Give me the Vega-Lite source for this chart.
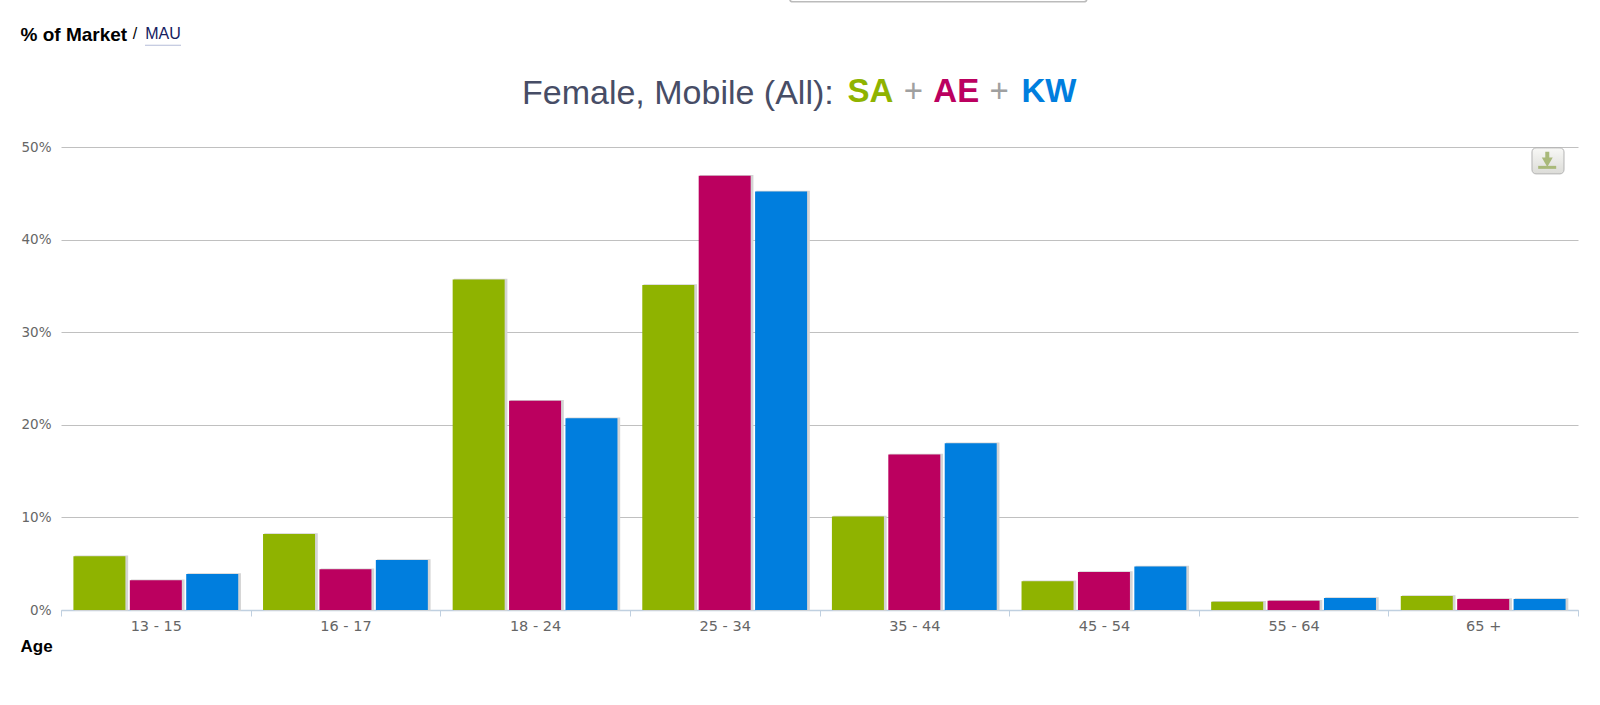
{
  "$schema": "https://vega.github.io/schema/vega-lite/v6.json",
  "width": 1517,
  "height": 463,
  "autosize": {"type": "none"},
  "padding": {"left": 61, "top": 147, "right": 22, "bottom": 95},
  "background": "white",
  "title": {
    "text": "Female, Mobile (All):",
    "anchor": "start",
    "dx": 502,
    "dy": 116,
    "offset": 0,
    "font": "Liberation Sans",
    "fontSize": 34,
    "fontWeight": "normal",
    "color": "#474d66"
  },
  "config": {"view": {"stroke": null}},
  "resolve": {"scale": {"xOffset": "independent"}},
  "data": {
    "values": [
      {"age": "13 - 15", "market": "SA", "pct": 5.8},
      {"age": "13 - 15", "market": "AE", "pct": 3.2},
      {"age": "13 - 15", "market": "KW", "pct": 3.9},
      {"age": "16 - 17", "market": "SA", "pct": 8.2},
      {"age": "16 - 17", "market": "AE", "pct": 4.4},
      {"age": "16 - 17", "market": "KW", "pct": 5.4},
      {"age": "18 - 24", "market": "SA", "pct": 35.7},
      {"age": "18 - 24", "market": "AE", "pct": 22.6},
      {"age": "18 - 24", "market": "KW", "pct": 20.7},
      {"age": "25 - 34", "market": "SA", "pct": 35.1},
      {"age": "25 - 34", "market": "AE", "pct": 46.9},
      {"age": "25 - 34", "market": "KW", "pct": 45.2},
      {"age": "35 - 44", "market": "SA", "pct": 10.1},
      {"age": "35 - 44", "market": "AE", "pct": 16.8},
      {"age": "35 - 44", "market": "KW", "pct": 18.0},
      {"age": "45 - 54", "market": "SA", "pct": 3.1},
      {"age": "45 - 54", "market": "AE", "pct": 4.1},
      {"age": "45 - 54", "market": "KW", "pct": 4.7},
      {"age": "55 - 64", "market": "SA", "pct": 0.9},
      {"age": "55 - 64", "market": "AE", "pct": 1.0},
      {"age": "55 - 64", "market": "KW", "pct": 1.3},
      {"age": "65 +", "market": "SA", "pct": 1.5},
      {"age": "65 +", "market": "AE", "pct": 1.2},
      {"age": "65 +", "market": "KW", "pct": 1.2}
    ]
  },
  "layer": [
    {
      "mark": {"type": "bar", "color": "#d4d4d4", "stroke": "#d4d4d4", "strokeWidth": 1.5},
      "encoding": {
        "x": {
          "field": "age",
          "type": "nominal",
          "sort": null,
          "scale": {
            "domain": ["13 - 15", "16 - 17", "18 - 24", "25 - 34", "35 - 44", "45 - 54", "55 - 64", "65 +"],
            "paddingInner": 0,
            "paddingOuter": 0
          },
          "axis": {
            "title": "Age",
            "titleFont": "Liberation Sans",
            "titleFontSize": 17,
            "titleFontWeight": "bold",
            "titleColor": "#000000",
            "titleAlign": "left",
            "titleAnchor": "start",
            "titleX": -41,
            "titleY": 36,
            "titleBaseline": "middle",
            "tickBand": "extent",
            "labelAngle": 0,
            "labelFont": "DejaVu Sans",
            "labelFontSize": 14.5,
            "labelColor": "#666666",
            "labelPadding": 3,
            "domainColor": "#c0d0e0",
            "domainWidth": 1.5,
            "tickColor": "#c0d0e0",
            "tickSize": 6
          }
        },
        "xOffset": {
          "field": "market",
          "type": "nominal",
          "sort": ["SA", "AE", "KW"],
          "scale": {"paddingInner": 0.078, "paddingOuter": 0.22, "align": 0.58}
        },
        "y": {
          "field": "pct",
          "type": "quantitative",
          "scale": {"domain": [0, 50], "nice": false},
          "axis": {
            "title": "% of Market",
            "titleFont": "Liberation Sans",
            "titleFontSize": 19,
            "titleFontWeight": "bold",
            "titleColor": "#000000",
            "titleAngle": 0,
            "titleAlign": "left",
            "titleBaseline": "middle",
            "titleX": -41,
            "titleY": -113,
            "values": [0, 10, 20, 30, 40, 50],
            "labelExpr": "datum.value + '%'",
            "labelFont": "DejaVu Sans",
            "labelFontSize": 13.5,
            "labelColor": "#666666",
            "labelPadding": 10,
            "domain": false,
            "ticks": false,
            "grid": true,
            "gridColor": "#c0c0c0",
            "gridWidth": 1
          }
        }
      }
    },
    {
      "mark": {"type": "bar"},
      "encoding": {
        "x": {"field": "age", "type": "nominal", "sort": null},
        "xOffset": {
          "field": "market",
          "type": "nominal",
          "sort": ["SA", "AE", "KW"],
          "scale": {"paddingInner": 0.078, "paddingOuter": 0.22}
        },
        "y": {"field": "pct", "type": "quantitative"},
        "color": {
          "field": "market",
          "type": "nominal",
          "scale": {"domain": ["SA", "AE", "KW"], "range": ["#8fb300", "#bb005f", "#007ede"]},
          "legend": null
        }
      }
    },
    {
      "data": {"values": [{"label": "SA"}]},
      "mark": {"type": "text", "font": "Liberation Sans", "fontSize": 33, "fontWeight": "bold", "color": "#8fb300", "baseline": "middle"},
      "encoding": {
        "x": {"datum": "35 - 44", "bandPosition": 0.269},
        "y": {"datum": 55.9},
        "text": {"field": "label"}
      }
    },
    {
      "data": {"values": [{"label": "+"}]},
      "mark": {"type": "text", "font": "Liberation Sans", "fontSize": 33, "fontWeight": "normal", "color": "#a0a0a0", "baseline": "middle"},
      "encoding": {
        "x": {"datum": "35 - 44", "bandPosition": 0.495},
        "y": {"datum": 55.9},
        "text": {"field": "label"}
      }
    },
    {
      "data": {"values": [{"label": "AE"}]},
      "mark": {"type": "text", "font": "Liberation Sans", "fontSize": 33, "fontWeight": "bold", "color": "#bb005f", "baseline": "middle"},
      "encoding": {
        "x": {"datum": "35 - 44", "bandPosition": 0.721},
        "y": {"datum": 55.9},
        "text": {"field": "label"}
      }
    },
    {
      "data": {"values": [{"label": "+"}]},
      "mark": {"type": "text", "font": "Liberation Sans", "fontSize": 33, "fontWeight": "normal", "color": "#a0a0a0", "baseline": "middle"},
      "encoding": {
        "x": {"datum": "35 - 44", "bandPosition": 0.948},
        "y": {"datum": 55.9},
        "text": {"field": "label"}
      }
    },
    {
      "data": {"values": [{"label": "KW"}]},
      "mark": {"type": "text", "font": "Liberation Sans", "fontSize": 33, "fontWeight": "bold", "color": "#007ede", "baseline": "middle"},
      "encoding": {
        "x": {"datum": "45 - 54", "bandPosition": 0.21},
        "y": {"datum": 55.9},
        "text": {"field": "label"}
      }
    },
    {
      "data": {"values": [{"label": "/"}]},
      "mark": {"type": "text", "font": "Liberation Sans", "fontSize": 16, "color": "#000000", "baseline": "middle"},
      "encoding": {
        "x": {"datum": "13 - 15", "bandPosition": 0.39},
        "y": {"datum": 62.2},
        "text": {"field": "label"}
      }
    },
    {
      "data": {"values": [{"label": "MAU"}]},
      "mark": {"type": "text", "font": "Liberation Sans", "fontSize": 16, "color": "#14205e", "baseline": "middle"},
      "encoding": {
        "x": {"datum": "13 - 15", "bandPosition": 0.538},
        "y": {"datum": 62.2},
        "text": {"field": "label"}
      }
    },
    {
      "data": {"values": [{"label": "MAU underline"}]},
      "mark": {"type": "tick", "orient": "horizontal", "size": 36, "thickness": 1, "color": "#b4bcd8", "opacity": 1, "xOffset": 7.2},
      "encoding": {
        "x": {"datum": "13 - 15"},
        "y": {"datum": 61.0}
      }
    },
    {
      "data": {"values": [{"label": "button"}]},
      "mark": {
        "type": "tick",
        "orient": "horizontal",
        "size": 32,
        "thickness": 26,
        "color": {
          "gradient": "linear",
          "x1": 0,
          "y1": 0,
          "x2": 0,
          "y2": 1,
          "stops": [{"offset": 0, "color": "#f8f8f6"}, {"offset": 1, "color": "#dcdcd8"}]
        },
        "stroke": "#b4b4b4",
        "strokeWidth": 1,
        "cornerRadius": 4,
        "opacity": 1,
        "xOffset": 64.8
      },
      "encoding": {
        "x": {"datum": "65 +"},
        "y": {"datum": 48.5}
      }
    },
    {
      "data": {"values": [{"label": "arrow"}]},
      "mark": {"type": "point", "shape": "triangle-down", "size": 120, "filled": true, "color": "#a9b97a", "opacity": 1},
      "encoding": {
        "x": {"datum": "65 +", "bandPosition": 0.838},
        "y": {"datum": 48.35}
      }
    },
    {
      "data": {"values": [{"label": "arrow stem"}]},
      "mark": {"type": "tick", "orient": "vertical", "size": 9, "thickness": 4, "color": "#a9b97a", "opacity": 1},
      "encoding": {
        "x": {"datum": "65 +", "bandPosition": 0.838},
        "y": {"datum": 49.0}
      }
    },
    {
      "data": {"values": [{"label": "arrow base"}]},
      "mark": {"type": "tick", "orient": "horizontal", "size": 18, "thickness": 3, "color": "#a9b97a", "opacity": 1, "xOffset": 64},
      "encoding": {
        "x": {"datum": "65 +"},
        "y": {"datum": 47.8}
      }
    },
    {
      "data": {"values": [{"label": "top button"}]},
      "mark": {"type": "tick", "orient": "horizontal", "size": 297, "thickness": 6, "color": "#ffffff", "stroke": "#bbbbbb", "strokeWidth": 1.5, "cornerRadius": 3, "opacity": 1, "xOffset": 24},
      "encoding": {
        "x": {"datum": "35 - 44"},
        "y": {"datum": 66}
      }
    }
  ]
}
